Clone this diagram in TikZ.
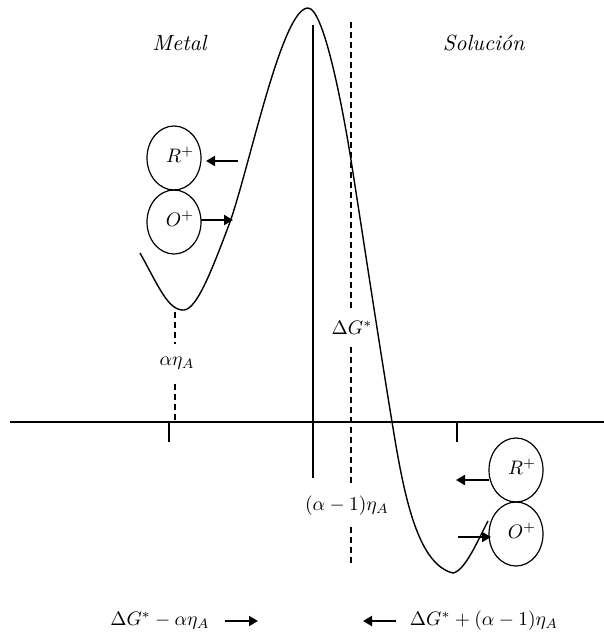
\documentclass[tikz,border=0pt]{standalone}
\usepackage{graphicx}
\usetikzlibrary{arrows.meta,shapes.geometric}
\newcommand{\lbl}[1]{\scalebox{1.95}{$#1$}}
\newcommand{\tlbl}[1]{\scalebox{2.2}{\textit{#1}}}
\begin{document}
\begin{tikzpicture}[x=1pt,y=-1pt,
  lab/.style={inner sep=1pt},
  ion/.style={draw, line width=1.2pt, ellipse, minimum width=54pt, minimum height=64pt, inner sep=0pt},
  ar/.style={line width=2pt, -{Triangle[length=9pt,width=10pt]}},
  dsh/.style={line width=1.2pt, dash pattern=on 6pt off 4pt},
  tick/.style={line width=1.2pt}]
\useasboundingbox (0,0) rectangle (604,637);
% axes
\coordinate (axL) at (10,422);
\coordinate (axR) at (604,422);
\draw[line width=2pt] (axL) -- (axR);
\coordinate (vT) at (313,25);
\coordinate (vB) at (313,478);
\draw[line width=2pt] (vT) -- (vB);
% ticks
\coordinate (t1a) at (169,422); \coordinate (t1b) at (169,442);
\coordinate (t2a) at (457,422); \coordinate (t2b) at (457,442);
\draw[tick] (t1a) -- (t1b);
\draw[tick] (t2a) -- (t2b);
% labels
\node[lab] (metal) at (180,43) {\tlbl{Metal}};
\node[lab] (sol) at (484,43) {\tlbl{Solución}};
\node[lab] (aeta) at (177,363) {\lbl{\alpha\eta_A}};
\node[lab] (dg) at (352,328) {\lbl{\Delta G^{*}}};
\node[lab] (am1) at (347,506) {\lbl{(\alpha-1)\eta_A}};
% dashed lines
\coordinate (d1t) at (175,312); \coordinate (d1g1) at (175,344);
\coordinate (d1g2) at (175,384); \coordinate (d1b) at (175,422);
\draw[dsh] (d1t) -- (d1g1);
\draw[dsh] (d1g2) -- (d1b);
\coordinate (d2t) at (351,22); \coordinate (d2g1) at (351,309);
\coordinate (d2g2) at (351,347); \coordinate (d2g3) at (351,484);
\coordinate (d2g4) at (351,527); \coordinate (d2b) at (351,566);
\draw[dsh] (d2t) -- (d2g1);
\draw[dsh] (d2g2) -- (d2g3);
\draw[dsh] (d2g4) -- (d2b);
% curve
\draw[line width=1.4pt] (140,253) .. controls (158,285) and (168,311) .. (184,310)
 .. controls (197,309) and (212,270) .. (230,222)
 .. controls (250,165) and (282,8) .. (308,8)
 .. controls (324,8) and (343,110) .. (351,160)
 .. controls (362,230) and (380,350) .. (395,440)
 .. controls (406,505) and (420,565) .. (453,573)
 .. controls (465,571) and (478,540) .. (488,521);
% ions left
\node[ion] (R1) at (174,158) {};
\node[ion] (O1) at (174,222) {};
\node[lab] (R1t) at (180,155) {\lbl{R^{+}}};
\node[lab] (O1t) at (180,219) {\lbl{O^{+}}};
\coordinate (a1s) at (238,161); \coordinate (a1e) at (206,161);
\draw[ar] (a1s) -- (a1e);
\coordinate (a2s) at (201,220); \coordinate (a2e) at (233,220);
\draw[ar] (a2s) -- (a2e);
% ions right
\node[ion] (R2) at (516,470) {};
\node[ion] (O2) at (516,534) {};
\node[lab] (R2t) at (522,467) {\lbl{R^{+}}};
\node[lab] (O2t) at (522,531) {\lbl{O^{+}}};
\coordinate (a3s) at (489,480); \coordinate (a3e) at (456,480);
\draw[ar] (a3s) -- (a3e);
\coordinate (a4s) at (458,537); \coordinate (a4e) at (491,537);
\draw[ar] (a4s) -- (a4e);
% bottom
\node[lab] (b1) at (160,621) {\lbl{\Delta G^{*}-\alpha\eta_A}};
\coordinate (a5s) at (225,621); \coordinate (a5e) at (258,621);
\draw[ar] (a5s) -- (a5e);
\node[lab] (b2) at (484,621) {\lbl{\Delta G^{*}+(\alpha-1)\eta_A}};
\coordinate (a6s) at (396,621); \coordinate (a6e) at (363,621);
\draw[ar] (a6s) -- (a6e);
\end{tikzpicture}
\end{document}
